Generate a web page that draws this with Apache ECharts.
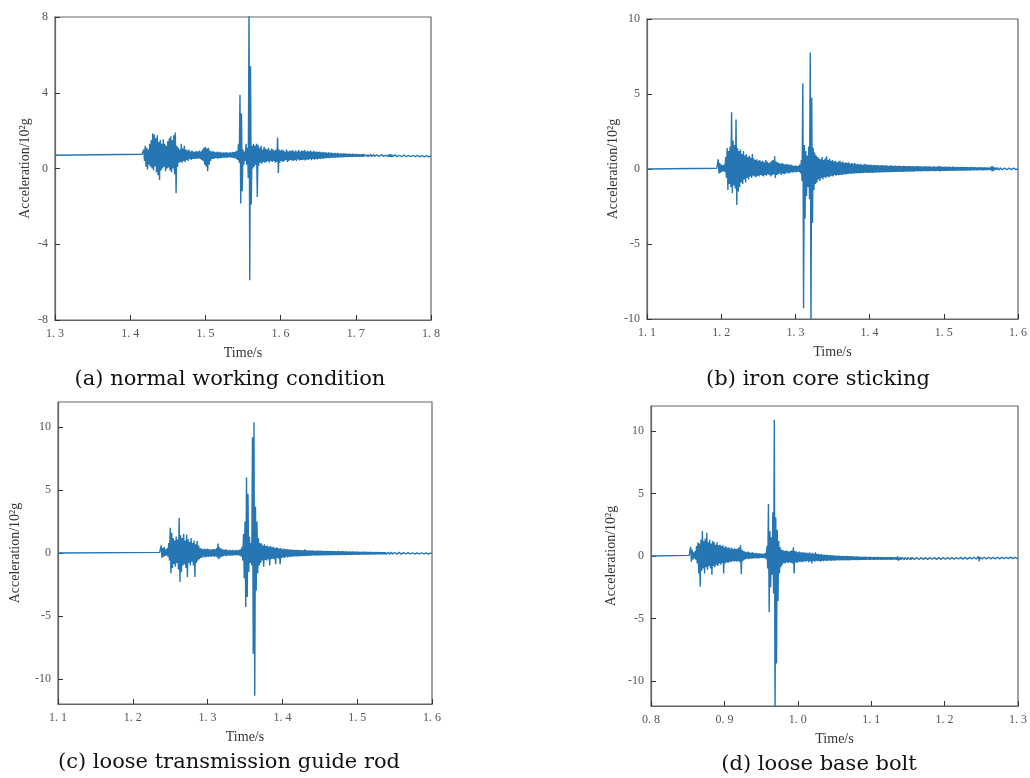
<!DOCTYPE html>
<html>
<head>
<meta charset="utf-8">
<script src="https://cdn.jsdelivr.net/npm/echarts@6.0.0/dist/echarts.min.js"></script>
<style>
  html, body { margin: 0; padding: 0; background: #fff; }
  #chart { width: 1030px; height: 778px; }
</style>
</head>
<body>
<div id="chart"></div>
<script>
// sampling grid of the traces: each bin carries the max (hi) and min (lo)
var dt = 0.002;

// (a) normal working condition
var rangeA = [1.3, 1.8];
var baseA = 0.7, endA = 0.65, t0A = 1.416;
var hiA = [0.75,1.0,1.2,1.1,1.0,1.3,1.5,1.86,1.8,1.6,
  1.75,1.4,1.5,1.3,1.55,1.3,1.2,1.45,1.6,1.7,
  1.5,1.75,1.9,1.2,1.1,1.0,1.3,1.05,1.2,1.0,
  0.95,1.0,0.9,0.95,0.9,0.88,0.92,0.9,0.95,0.9,
  1.0,1.1,1.15,1.05,1.1,0.95,0.9,0.92,0.88,0.85,
  0.9,0.85,0.88,0.82,0.85,0.84,0.86,0.82,0.85,0.84,
  0.88,0.86,0.9,0.95,1.3,3.9,2.9,1.0,0.9,1.3,
  1.1,8.5,5.4,1.2,1.3,1.2,1.3,1.25,1.1,1.2,
  1.0,1.15,1.05,1.0,1.1,0.95,1.05,1.0,0.95,1.0,
  1.63,1.0,0.95,1.0,0.95,0.9,1.0,0.9,0.95,0.92,
  0.98,0.9,0.95,0.9,0.98,0.9,0.95,0.92,0.97,0.9,
  0.93,0.9,0.95,0.88,0.93,0.88,0.9,0.87,0.9,0.86,
  0.88,0.84,0.86,0.83,0.85,0.82,0.84,0.8,0.83,0.8,
  0.82,0.79,0.8,0.78,0.8,0.78,0.79,0.77,0.78,0.76,
  0.78,0.76,0.77,0.75,0.76,0.74,0.76,0.75,0.74,0.75,
  0.74,0.73,0.75,0.73,0.74,0.72,0.73,0.74,0.72,0.73,
  0.72,0.73,0.71,0.72,0.74,0.76,0.73,0.71,0.72,0.71,
  0.72,0.7,0.71,0.7,0.71,0.7,0.7,0.69,0.7,0.69,
  0.7,0.69,0.69,0.7,0.68,0.69,0.68,0.69,0.68,0.68,
  0.68,0.67];
var loA = [0.65,0.4,0.1,-0.05,0.2,0.1,0.0,-0.1,0.1,-0.2,
  -0.35,-0.6,-0.1,0.0,0.1,-0.15,0.0,0.05,-0.1,-0.2,
  0.0,-0.3,-1.3,0.1,0.3,0.35,0.3,0.4,0.35,0.45,
  0.4,0.5,0.45,0.5,0.5,0.52,0.5,0.55,0.5,0.45,
  0.4,0.2,0.1,-0.15,0.2,0.4,0.5,0.5,0.55,0.55,
  0.52,0.55,0.55,0.58,0.56,0.58,0.56,0.6,0.57,0.58,
  0.55,0.56,0.5,0.45,0.3,-1.85,-1.2,0.2,0.4,0.2,
  -0.5,-5.9,-1.9,0.0,0.1,0.2,-1.5,0.15,0.3,0.25,
  0.35,0.3,0.35,0.4,0.3,0.4,0.35,0.4,0.3,0.35,
  -0.24,0.3,0.4,0.35,0.4,0.45,0.35,0.4,0.45,0.42,
  0.4,0.45,0.4,0.48,0.42,0.45,0.45,0.47,0.42,0.48,
  0.45,0.5,0.44,0.5,0.46,0.5,0.48,0.52,0.5,0.53,
  0.52,0.55,0.54,0.56,0.55,0.57,0.56,0.58,0.57,0.59,
  0.58,0.6,0.59,0.6,0.6,0.61,0.6,0.62,0.61,0.62,
  0.62,0.63,0.62,0.63,0.62,0.63,0.62,0.63,0.64,0.63,
  0.63,0.64,0.63,0.64,0.63,0.64,0.64,0.63,0.64,0.63,
  0.64,0.63,0.64,0.63,0.62,0.6,0.62,0.63,0.63,0.63,
  0.63,0.63,0.62,0.63,0.62,0.62,0.63,0.62,0.62,0.62,
  0.62,0.62,0.61,0.62,0.61,0.62,0.61,0.62,0.61,0.62,
  0.62,0.62];

// (b) iron core sticking
var rangeB = [1.1, 1.6];
var baseB = 0, endB = 0.0, t0B = 1.194;
var hiB = [0.05,0.65,0.4,0.3,0.25,0.3,0.8,1.4,1.2,1.5,
  3.78,1.9,1.6,3.3,1.4,1.2,1.3,1.0,1.2,0.9,
  1.0,0.8,0.9,0.75,1.0,0.7,0.6,0.65,0.55,0.6,
  0.5,0.55,0.45,0.6,0.5,0.4,0.45,0.55,0.6,0.85,
  0.5,0.45,0.4,0.35,0.4,0.35,0.3,0.35,0.3,0.28,
  0.3,0.25,0.2,0.25,0.2,0.22,0.3,0.6,5.71,1.6,
  1.2,0.9,1.5,7.76,4.75,1.4,1.1,0.9,0.8,0.7,
  0.65,0.8,0.6,0.7,0.85,0.6,0.7,0.55,0.6,0.5,
  0.55,0.45,0.5,0.55,0.45,0.5,0.4,0.45,0.4,0.45,
  0.35,0.4,0.35,0.4,0.32,0.35,0.3,0.35,0.28,0.3,
  0.35,0.28,0.3,
  0.27,0.3,0.25,0.28,0.24,0.27,0.25,0.23,0.26,0.24,
  0.22,0.25,0.23,0.2,0.24,0.22,0.2,0.22,0.21,0.2,
  0.22,0.2,0.19,0.21,0.2,0.18,0.2,0.19,0.18,0.2,
  0.18,0.17,0.19,0.18,0.17,0.18,0.16,0.18,0.17,0.16,
  0.17,0.16,0.15,0.17,0.16,0.15,0.16,0.2,0.16,0.15,
  0.14,0.16,0.15,0.14,0.15,0.13,0.15,0.14,0.13,0.14,
  0.13,0.12,0.14,0.13,0.12,0.13,0.12,0.11,0.13,0.12,
  0.11,0.12,0.11,0.1,0.12,0.11,0.1,0.11,0.1,0.09,
  0.1,0.09,0.18,0.17,0.1,0.09,0.08,0.09,0.08,0.07,
  0.08,0.07,0.07,0.06,0.07,0.06,0.05,0.06,0.05,0.05];
var loB = [-0.05,-0.3,-0.25,-0.2,-0.15,-0.2,-0.6,-1.4,-1.0,-1.2,
  -1.62,-1.1,-1.3,-2.4,-1.5,-1.2,-0.9,-1.0,-0.7,-0.9,
  -0.6,-0.7,-0.5,-0.6,-0.45,-0.5,-0.55,-0.45,-0.5,-0.4,
  -0.45,-0.5,-0.4,-0.45,-0.35,-0.4,-0.5,-0.4,-0.35,-0.6,
  -0.4,-0.35,-0.3,-0.4,-0.3,-0.35,-0.3,-0.25,-0.3,-0.25,
  -0.22,-0.25,-0.2,-0.22,-0.18,-0.2,-0.3,-0.8,-9.29,-3.3,
  -1.8,-1.2,-2.0,-11,-3.6,-1.4,-1.0,-0.9,-0.7,-0.8,
  -0.6,-0.7,-0.55,-0.6,-0.5,-0.55,-0.5,-0.45,-0.5,-0.4,
  -0.45,-0.4,-0.42,-0.38,-0.4,-0.35,-0.38,-0.33,-0.35,-0.3,
  -0.33,-0.3,-0.32,-0.28,-0.3,-0.27,-0.3,-0.26,-0.28,-0.25,
  -0.27,-0.24,-0.26,
  -0.25,-0.24,-0.26,-0.23,-0.25,-0.22,-0.24,-0.22,-0.23,-0.21,
  -0.22,-0.2,-0.22,-0.2,-0.21,-0.19,-0.2,-0.19,-0.2,-0.18,
  -0.19,-0.18,-0.19,-0.17,-0.18,-0.17,-0.16,-0.18,-0.16,-0.17,
  -0.16,-0.15,-0.16,-0.15,-0.16,-0.14,-0.15,-0.14,-0.15,-0.14,
  -0.14,-0.13,-0.14,-0.13,-0.14,-0.12,-0.13,-0.16,-0.13,-0.12,
  -0.12,-0.13,-0.12,-0.11,-0.12,-0.11,-0.12,-0.11,-0.1,-0.11,
  -0.1,-0.11,-0.1,-0.1,-0.09,-0.1,-0.09,-0.1,-0.09,-0.08,
  -0.09,-0.08,-0.09,-0.08,-0.08,-0.07,-0.08,-0.07,-0.07,-0.07,
  -0.06,-0.07,-0.15,-0.14,-0.06,-0.06,-0.05,-0.06,-0.05,-0.05,
  -0.05,-0.04,-0.05,-0.04,-0.04,-0.04,-0.03,-0.04,-0.03,-0.03];

// (c) loose transmission guide rod
var rangeC = [1.1, 1.6];
var baseC = 0, endC = -0.05, t0C = 1.236;
var hiC = [0.05,0.6,0.4,0.5,0.3,0.4,0.8,2.0,1.6,1.2,
  1.0,1.3,1.1,2.8,1.4,1.2,1.5,1.0,1.45,1.1,
  0.9,1.2,0.8,1.0,0.7,0.95,0.6,0.4,0.35,0.3,
  0.35,0.3,0.35,0.3,0.28,0.3,0.32,0.3,0.4,0.75,
  0.45,0.35,0.3,0.25,0.3,0.25,0.22,0.25,0.22,0.25,
  0.2,0.25,0.22,0.25,0.3,0.5,1.5,2.5,6.0,4.7,
  1.3,0.8,9.2,10.4,3.7,2.5,1.2,0.8,0.75,0.6,
  0.7,0.55,0.6,0.5,0.55,0.45,0.5,0.4,0.45,0.4,
  0.35,0.4,0.3,0.35,0.3,0.32,0.28,0.3,
  0.25,0.28,0.24,0.26,0.23,0.25,0.22,0.24,0.21,0.3,
  0.22,0.2,0.22,0.19,0.21,0.18,0.2,0.17,0.19,0.16,
  0.18,0.16,0.17,0.15,0.17,0.14,0.16,0.15,0.14,0.15,
  0.13,0.15,0.14,0.12,0.14,0.13,0.12,0.13,0.11,0.12,
  0.11,0.12,0.1,0.11,0.1,0.11,0.09,0.1,0.09,0.1,
  0.09,0.08,0.09,0.08,0.09,0.07,0.08,0.07,0.08,0.07,
  0.06,0.07,0.06,0.07,0.05,0.06,0.05,0.06,0.05,0.04,
  0.05,0.04,0.05,0.04,0.03,0.04,0.03,0.04,0.03,0.02,
  0.03,0.02,0.03,0.02,0.01,0.02,0.01,0.02,0.01,0.0,
  0.01,0.0,0.0,-0.01];
var loC = [-0.05,-0.4,-0.3,-0.25,-0.2,-0.3,-0.6,-1.6,-1.2,-0.9,
  -1.1,-0.8,-1.3,-2.3,-1.5,-1.0,-0.9,-1.2,-1.9,-0.8,
  -1.0,-0.7,-1.0,-1.9,-0.8,-0.6,-0.5,-0.4,-0.35,-0.3,
  -0.35,-0.3,-0.32,-0.28,-0.3,-0.25,-0.3,-0.28,-0.35,-0.5,
  -0.35,-0.3,-0.25,-0.22,-0.25,-0.2,-0.22,-0.2,-0.22,-0.18,
  -0.2,-0.18,-0.2,-0.22,-0.3,-0.6,-2.0,-4.3,-3.5,-1.5,
  -0.8,-1.0,-8.0,-11.35,-3.0,-1.6,-1.0,-0.8,-0.6,-1.1,
  -0.55,-0.6,-0.5,-1.0,-0.5,-0.45,-0.5,-0.9,-0.4,-0.45,
  -0.9,-0.4,-0.35,-0.4,-0.3,-0.35,-0.3,-0.32,
  -0.28,-0.3,-0.26,-0.28,-0.25,-0.27,-0.24,-0.26,-0.23,-0.25,
  -0.22,-0.24,-0.21,-0.22,-0.2,-0.21,-0.19,-0.2,-0.18,-0.19,
  -0.18,-0.19,-0.17,-0.18,-0.17,-0.18,-0.16,-0.17,-0.16,-0.17,
  -0.16,-0.17,-0.15,-0.16,-0.15,-0.16,-0.15,-0.14,-0.15,-0.14,
  -0.14,-0.15,-0.13,-0.14,-0.13,-0.14,-0.13,-0.12,-0.13,-0.12,
  -0.12,-0.13,-0.12,-0.11,-0.12,-0.11,-0.12,-0.11,-0.1,-0.11,
  -0.1,-0.11,-0.1,-0.1,-0.09,-0.1,-0.09,-0.1,-0.09,-0.09,
  -0.09,-0.1,-0.09,-0.09,-0.08,-0.09,-0.08,-0.09,-0.08,-0.08,
  -0.08,-0.09,-0.08,-0.08,-0.08,-0.08,-0.07,-0.08,-0.08,-0.08,
  -0.08,-0.08,-0.07,-0.08];

// (d) loose base bolt
var rangeD = [0.8, 1.3];
var baseD = 0, endD = -0.18, t0D = 0.852;
var hiD = [0.05,0.74,0.5,0.3,0.4,0.8,1.1,1.0,1.3,2.0,
  1.2,1.4,1.85,1.1,1.3,1.0,1.2,1.1,0.9,1.1,
  0.85,0.9,0.8,0.85,0.7,0.8,0.65,0.7,0.6,0.65,
  0.55,0.6,0.55,0.6,0.7,0.85,0.5,0.4,0.35,0.3,
  0.35,0.3,0.25,0.3,0.25,0.22,0.25,0.2,0.22,0.2,
  0.18,0.2,0.25,0.8,4.15,2.0,1.5,3.5,10.9,3.1,
  2.1,1.2,0.7,0.5,0.45,0.4,0.45,0.4,0.35,0.4,
  0.45,0.7,0.4,0.35,0.3,0.35,0.3,0.28,0.3,0.25,
  0.28,0.22,0.3,0.2,0.25,0.18,0.3,0.15,0.18,0.12,
  0.15,0.1,0.12,0.08,0.1,0.06,0.08,0.05,0.06,0.03,
  0.04,0.02,0.03,0.0,0.02,-0.01,0.0,-0.02,0.0,-0.03,
  -0.02,-0.04,-0.03,-0.05,-0.04,-0.06,-0.05,-0.07,-0.06,-0.07,
  -0.06,-0.08,-0.07,-0.08,-0.07,-0.09,-0.08,-0.09,-0.08,-0.09,
  -0.08,-0.09,-0.09,-0.1,-0.09,-0.1,-0.09,-0.1,-0.1,-0.11,
  -0.1,-0.11,-0.03,-0.11,-0.11,-0.12,-0.11,-0.12,-0.11,-0.12,
  -0.12,-0.11,-0.12,-0.12,-0.13,-0.12,-0.13,-0.12,-0.13,-0.13,
  -0.12,-0.13,-0.13,-0.12,-0.13,-0.13,-0.12,-0.13,-0.12,-0.13,
  -0.13,-0.12,-0.13,-0.12,-0.13,-0.12,-0.12,-0.13,-0.12,-0.12,
  -0.12,-0.11,-0.12,-0.11,-0.12,-0.11,-0.11,-0.12,-0.11,-0.11,
  -0.1,-0.11,-0.1,-0.11,-0.1,-0.1,-0.11,-0.03,-0.1,-0.11,
  -0.1,-0.1,-0.11,-0.1,-0.1,-0.1,-0.11,-0.1,-0.1,-0.1,
  -0.1,-0.09,-0.1,-0.1,-0.09,-0.1,-0.1,-0.09,-0.1,-0.09,
  -0.1,-0.09,-0.1,-0.1];
var loD = [-0.05,-0.45,-0.3,-0.2,-0.3,-0.6,-1.4,-2.45,-1.2,-1.0,
  -1.4,-0.9,-1.1,-0.8,-1.0,-1.5,-0.8,-0.9,-0.7,-0.8,
  -0.6,-0.7,-0.55,-1.4,-0.6,-0.5,-0.55,-0.45,-0.5,-0.4,
  -0.45,-0.4,-0.45,-0.4,-0.5,-1.45,-0.4,-0.3,-0.25,-0.22,
  -0.25,-0.2,-0.22,-0.2,-0.18,-0.2,-0.18,-0.2,-0.16,-0.18,
  -0.15,-0.18,-0.25,-1.0,-4.5,-2.5,-1.5,-3.0,-13,-8.6,
  -3.6,-1.4,-0.9,-0.7,-0.55,-0.6,-0.5,-0.55,-0.5,-0.55,
  -0.6,-1.4,-0.5,-0.55,-0.45,-0.5,-0.45,-0.5,-0.42,-0.45,
  -0.4,-0.5,-0.42,-0.6,-0.4,-0.45,-0.38,-0.42,-0.4,-0.45,
  -0.38,-0.42,-0.36,-0.4,-0.38,-0.36,-0.4,-0.35,-0.38,-0.35,
  -0.36,-0.34,-0.36,-0.33,-0.35,-0.33,-0.34,-0.32,-0.34,-0.32,
  -0.33,-0.31,-0.33,-0.31,-0.32,-0.3,-0.32,-0.3,-0.31,-0.3,
  -0.31,-0.29,-0.31,-0.3,-0.29,-0.31,-0.3,-0.29,-0.3,-0.29,
  -0.3,-0.29,-0.3,-0.29,-0.3,-0.29,-0.28,-0.3,-0.29,-0.28,
  -0.29,-0.3,-0.38,-0.3,-0.29,-0.28,-0.29,-0.28,-0.29,-0.28,
  -0.28,-0.29,-0.28,-0.27,-0.28,-0.27,-0.28,-0.27,-0.28,-0.27,
  -0.27,-0.28,-0.27,-0.26,-0.27,-0.26,-0.27,-0.26,-0.27,-0.26,
  -0.26,-0.27,-0.26,-0.25,-0.26,-0.25,-0.26,-0.25,-0.26,-0.25,
  -0.25,-0.26,-0.25,-0.24,-0.25,-0.24,-0.25,-0.24,-0.24,-0.25,
  -0.24,-0.25,-0.24,-0.24,-0.23,-0.24,-0.24,-0.42,-0.24,-0.23,
  -0.23,-0.24,-0.23,-0.23,-0.22,-0.23,-0.23,-0.22,-0.23,-0.22,
  -0.22,-0.23,-0.22,-0.22,-0.21,-0.22,-0.22,-0.21,-0.22,-0.21,
  -0.21,-0.22,-0.21,-0.21];

var captions = ['(a) normal working condition', '(b) iron core sticking',
                '(c) loose transmission guide rod', '(d) loose base bolt'];
var yTicks = [[-8, -4, 0, 4, 8], [-10, -5, 0, 5, 10], [-10, -5, 0, 5, 10], [-10, -5, 0, 5, 10]];
var yRanges = [[-8, 8], [-10, 10], [-12, 12], [-12, 12]];
var xRanges = [rangeA, rangeB, rangeC, rangeD];

function trace(range, base, t0, hi, lo, end) {
    var pts = [[range[0], base]];
    for (var i = 0; i < hi.length; i++) {
        pts.push([t0 + i * dt, hi[i]]);
        pts.push([t0 + i * dt + dt / 2, lo[i]]);
    }
    pts.push([range[1], end]);
    return pts;
}

var traces = [
    trace(rangeA, baseA, t0A, hiA, loA, endA),
    trace(rangeB, baseB, t0B, hiB, loB, endB),
    trace(rangeC, baseC, t0C, hiC, loC, endC),
    trace(rangeD, baseD, t0D, hiD, loD, endD)
];

var grids = [
    { left: 55, top: 17, width: 376, height: 303 },
    { left: 647, top: 19, width: 371, height: 300 },
    { left: 58, top: 402, width: 374, height: 302 },
    { left: 651, top: 406, width: 371, height: 300 }
];
var yNameGap = [23, 24, 36, 33];
var capPos = [[230, 380], [818, 380], [229, 763], [819, 765]];

var frameColor = '#666';
var labelFont = { fontFamily: 'Liberation Serif', fontSize: 12, color: '#555' };

var chart = echarts.init(document.getElementById('chart'), null, { renderer: 'canvas' });

var option = {
    animation: false,
    backgroundColor: '#fff',
    grid: grids.map(function (g) {
        return Object.assign({ show: true, borderColor: frameColor, borderWidth: 1.2, backgroundColor: 'transparent' }, g);
    }),
    xAxis: xRanges.map(function (r, k) {
        return {
            type: 'value', gridIndex: k, min: r[0], max: r[1], interval: 0.1,
            name: 'Time/s', nameLocation: 'middle', nameGap: 26,
            nameTextStyle: { fontFamily: 'Liberation Serif', fontSize: 14, color: '#333' },
            axisLine: { onZero: false, lineStyle: { color: frameColor, width: 1.2 } },
            axisTick: { inside: true, length: 5, lineStyle: { color: '#333' } },
            axisLabel: Object.assign({
                margin: 8, showMinLabel: true, showMaxLabel: true,
                formatter: function (v) { return v.toFixed(1).replace('.', '. '); }
            }, labelFont),
            splitLine: { show: false }
        };
    }),
    yAxis: yRanges.map(function (r, k) {
        return {
            type: 'value', gridIndex: k, min: r[0], max: r[1],
            name: 'Acceleration/10²g', nameLocation: 'middle', nameGap: yNameGap[k],
            nameTextStyle: { fontFamily: 'Liberation Serif', fontSize: 14, color: '#333' },
            axisLine: { show: true, onZero: false, lineStyle: { color: frameColor, width: 1.2 } },
            axisTick: { show: true, inside: true, length: 5, customValues: yTicks[k], lineStyle: { color: '#333' } },
            axisLabel: Object.assign({ margin: 7, customValues: yTicks[k] }, labelFont),
            splitLine: { show: false }
        };
    }),
    series: traces.map(function (d, k) {
        return {
            type: 'line', xAxisIndex: k, yAxisIndex: k, data: d,
            showSymbol: false, symbol: 'none', sampling: null, clip: true,
            lineStyle: { color: '#2676b4', width: 1.4 }
        };
    }),
    graphic: captions.map(function (c, k) {
        return {
            type: 'text', x: capPos[k][0], y: capPos[k][1],
            style: {
                text: c, fill: '#111', textAlign: 'center', textVerticalAlign: 'middle',
                font: '21px "DejaVu Serif"'
            }
        };
    })
};

chart.setOption(option);
window.addEventListener('resize', chart.resize);
</script>
</body>
</html>
